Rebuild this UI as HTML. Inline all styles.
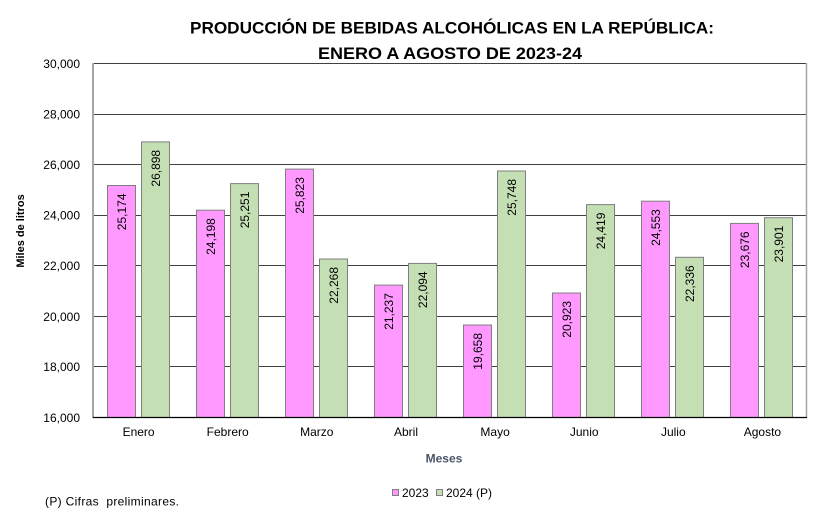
<!DOCTYPE html>
<html>
<head>
<meta charset="utf-8">
<style>
html,body{margin:0;padding:0;background:#fff;}
svg{display:block;}
text{font-family:"Liberation Sans",Arial,sans-serif;}
</style>
</head>
<body>
<svg width="824" height="516" viewBox="0 0 824 516" xmlns="http://www.w3.org/2000/svg">
<rect x="0" y="0" width="824" height="516" fill="#fff"/>
<!-- Title -->
<text x="452" y="33.5" font-size="16.5" font-weight="bold" text-anchor="middle" textLength="524" lengthAdjust="spacingAndGlyphs" fill="#000">PRODUCCIÓN  DE BEBIDAS ALCOHÓLICAS EN LA REPÚBLICA:</text>
<text x="450" y="59" font-size="16.5" font-weight="bold" text-anchor="middle" textLength="264" lengthAdjust="spacingAndGlyphs" fill="#000">ENERO A AGOSTO DE 2023-24</text>

<!-- Gridlines -->
<g stroke="#404040" stroke-width="1">
<line x1="94" y1="63.5" x2="807" y2="63.5"/>
<line x1="94" y1="114.5" x2="807" y2="114.5"/>
<line x1="94" y1="164.5" x2="807" y2="164.5"/>
<line x1="94" y1="215.5" x2="807" y2="215.5"/>
<line x1="94" y1="265.5" x2="807" y2="265.5"/>
<line x1="94" y1="316.5" x2="807" y2="316.5"/>
<line x1="94" y1="366.5" x2="807" y2="366.5"/>
</g>
<!-- borders -->
<line x1="93" y1="63" x2="93" y2="418" stroke="#a6a6a6" stroke-width="2"/>
<line x1="806.5" y1="63" x2="806.5" y2="418" stroke="#a6a6a6" stroke-width="1.5"/>

<!-- Bars -->
<g stroke="#7f7f7f" stroke-width="1">
<rect x="107.5" y="185.5" width="28" height="232" fill="#ff99ff"/>
<rect x="141.5" y="141.9" width="28" height="275.6" fill="#c4dfb4"/>
<rect x="196.5" y="210.2" width="28" height="207.3" fill="#ff99ff"/>
<rect x="230.5" y="183.6" width="28" height="233.9" fill="#c4dfb4"/>
<rect x="285.5" y="169.1" width="28" height="248.4" fill="#ff99ff"/>
<rect x="319.5" y="259.0" width="28" height="158.5" fill="#c4dfb4"/>
<rect x="374.5" y="285.1" width="28" height="132.4" fill="#ff99ff"/>
<rect x="408.5" y="263.4" width="28" height="154.1" fill="#c4dfb4"/>
<rect x="463.5" y="325.0" width="28" height="92.5" fill="#ff99ff"/>
<rect x="497.5" y="171.0" width="28" height="246.5" fill="#c4dfb4"/>
<rect x="552.5" y="293.0" width="28" height="124.5" fill="#ff99ff"/>
<rect x="586.5" y="204.6" width="28" height="212.9" fill="#c4dfb4"/>
<rect x="641.5" y="201.2" width="28" height="216.3" fill="#ff99ff"/>
<rect x="675.5" y="257.3" width="28" height="160.2" fill="#c4dfb4"/>
<rect x="730.5" y="223.4" width="28" height="194.1" fill="#ff99ff"/>
<rect x="764.5" y="217.7" width="28" height="199.8" fill="#c4dfb4"/>
</g>

<!-- Bottom axis -->
<line x1="93" y1="417.5" x2="807" y2="417.5" stroke="#000" stroke-width="1.2"/>

<!-- Bar labels -->
<g font-size="12" fill="#000" text-anchor="end">
<text transform="translate(126,193.5) rotate(-90)">25,174</text>
<text transform="translate(160,149.9) rotate(-90)">26,898</text>
<text transform="translate(215,218.2) rotate(-90)">24,198</text>
<text transform="translate(249,191.6) rotate(-90)">25,251</text>
<text transform="translate(304,177.1) rotate(-90)">25,823</text>
<text transform="translate(338,267.0) rotate(-90)">22,268</text>
<text transform="translate(393,293.1) rotate(-90)">21,237</text>
<text transform="translate(427,271.4) rotate(-90)">22,094</text>
<text transform="translate(482,333.0) rotate(-90)">19,658</text>
<text transform="translate(516,179.0) rotate(-90)">25,748</text>
<text transform="translate(571,301.0) rotate(-90)">20,923</text>
<text transform="translate(605,212.6) rotate(-90)">24,419</text>
<text transform="translate(660,209.2) rotate(-90)">24,553</text>
<text transform="translate(694,265.3) rotate(-90)">22,336</text>
<text transform="translate(749,231.4) rotate(-90)">23,676</text>
<text transform="translate(783,225.7) rotate(-90)">23,901</text>
</g>

<!-- Y tick labels -->
<g font-size="12" fill="#000" text-anchor="end">
<text x="80" y="68">30,000</text>
<text x="80" y="118.5">28,000</text>
<text x="80" y="169">26,000</text>
<text x="80" y="219.5">24,000</text>
<text x="80" y="270">22,000</text>
<text x="80" y="321">20,000</text>
<text x="80" y="371">18,000</text>
<text x="80" y="422">16,000</text>
</g>

<!-- X category labels -->
<g font-size="12" fill="#000" text-anchor="middle">
<text x="138.6" y="436">Enero</text>
<text x="227.7" y="436">Febrero</text>
<text x="316.8" y="436">Marzo</text>
<text x="406" y="436">Abril</text>
<text x="495.1" y="436">Mayo</text>
<text x="584.2" y="436">Junio</text>
<text x="673.3" y="436">Julio</text>
<text x="762.4" y="436">Agosto</text>
</g>

<!-- Axis titles -->
<text x="444" y="462.5" font-size="12" font-weight="bold" fill="#4a5568" text-anchor="middle">Meses</text>
<text transform="translate(24,231) rotate(-90)" font-size="11" font-weight="bold" fill="#000" text-anchor="middle">Miles de litros</text>

<!-- Legend -->
<rect x="392.5" y="489.5" width="6" height="6" fill="#ff99ff" stroke="#7f7f7f" stroke-width="1"/>
<text x="402" y="497" font-size="12" fill="#000">2023</text>
<rect x="436.5" y="489.5" width="6" height="6" fill="#c4dfb4" stroke="#7f7f7f" stroke-width="1"/>
<text x="446" y="497" font-size="12" fill="#000">2024 (P)</text>

<!-- Footnote -->
<text x="45" y="505.5" font-size="12" fill="#000" xml:space="preserve" textLength="134" lengthAdjust="spacing">(P) Cifras  preliminares.</text>
</svg>
</body>
</html>
